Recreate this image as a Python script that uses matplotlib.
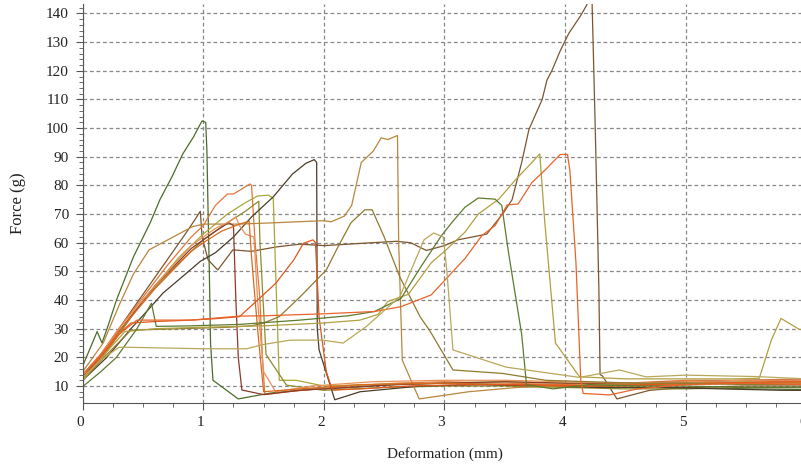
import matplotlib
matplotlib.use('Agg')
import matplotlib.pyplot as plt
from matplotlib.ticker import MultipleLocator
from matplotlib.transforms import ScaledTranslation

plt.rcParams['font.family'] = ['Liberation Serif', 'DejaVu Serif']

# --- force / deformation curves ---
xa = [0, 0.05, 0.12, 0.16, 0.21, 0.28, 0.42, 0.56, 0.64, 0.74, 0.83, 0.92, 0.97, 0.99, 1.02, 1.03, 1.04, 1.05, 1.06, 1.08, 1.29, 1.55, 1.8, 2.2, 2.6, 3.0, 3.5, 4.0, 4.5, 5.0, 5.5, 6.0]
fa = [17, 22, 29, 25, 31, 40, 55, 67, 75, 83, 91, 97, 101, 102.5, 102, 92, 70, 50, 25, 12, 5.5, 7.5, 8.6, 9.5, 10.5, 11, 10.5, 10, 9.5, 9.5, 9, 8.8]

xb = [0, 0.15, 0.3, 0.5, 0.7, 0.85, 0.93, 0.975, 0.99, 1.04, 1.12, 1.245, 1.4, 1.6, 1.8, 2.0, 2.2, 2.4, 2.6, 2.72, 2.85, 3.0, 3.11, 3.35, 3.49, 3.56, 3.64, 3.70, 3.81, 3.85, 3.89, 3.96, 4.03, 4.13, 4.18, 4.22, 4.25, 4.28, 4.29, 4.31, 4.43, 4.7, 5.0, 5.5, 6.0]
fb = [13, 21, 30, 42, 54, 63, 68, 71, 62, 54, 50.5, 57.5, 57, 58.5, 59.5, 59, 59.5, 60, 60.5, 60, 57.3, 59, 61, 63, 70.5, 75, 88, 99.5, 110, 116.8, 120, 127, 133, 139.3, 143, 150, 100, 44, 14, 13.5, 5.5, 8.5, 9.5, 10, 10]

xc = [0, 0.15, 0.3, 0.5, 0.7, 0.9, 1.0, 1.1, 1.2, 1.25, 1.31, 1.386, 1.40, 1.43, 1.47, 1.49, 1.51, 1.7, 2.2, 2.6, 3.0, 3.5, 4.0, 4.5, 5.0, 5.5, 6.0]
fc = [14, 21, 30, 41, 52, 62, 66, 73, 77, 77, 78.5, 80.5, 80, 60, 40, 20, 7, 8, 10, 11, 11.5, 11, 10.5, 11, 12, 12, 12.5]

xd = [0, 0.15, 0.3, 0.5, 0.8, 1.0, 1.2, 1.35, 1.45, 1.54, 1.58, 1.6, 1.63, 1.77, 2.0, 2.4, 3.0, 3.5, 4.0, 4.5, 5.0, 5.5, 6.0]
fd = [12, 19, 28, 40, 55, 63, 70, 74, 76.3, 76.6, 75.5, 50, 12, 12, 10, 10.5, 11, 11.5, 11, 10.5, 11, 11.5, 11]

xe = [0, 0.15, 0.3, 0.5, 0.8, 1.0, 1.2, 1.35, 1.46, 1.47, 1.52, 1.69, 2.0, 2.5, 3.0, 3.5, 4.0, 4.5, 5.0, 5.5, 6.0]
fe = [13, 20, 28, 40, 53, 61, 67, 71, 74.5, 60, 21, 10.3, 8.5, 9.5, 10, 10, 9.5, 9, 9, 9.5, 9.5]

xf = [0, 0.2, 0.4, 0.53, 0.665, 0.85, 0.975, 1.1, 1.25, 1.4, 1.58, 1.74, 1.85, 1.92, 1.94, 1.945, 1.96, 2.09, 2.3, 2.8, 3.3, 3.8, 4.3, 4.8, 5.3, 5.8, 6.0]
ff = [12, 20, 30, 36, 42.4, 49, 53.5, 56.5, 62, 69, 76, 84, 87.7, 89, 88, 30, 22.6, 5.2, 8, 10, 10.5, 10, 9.5, 9.5, 9, 8.5, 8.5]

xg = [0, 0.17, 0.3, 0.42, 0.55, 0.75, 0.91, 1.0, 1.3, 1.61, 2.0, 2.06, 2.17, 2.23, 2.31, 2.41, 2.475, 2.53, 2.61, 2.62, 2.65, 2.79, 3.2, 3.6, 4.0, 4.5, 5.0, 5.5, 6.0]
fg = [15, 25, 38, 49, 57.5, 62, 65.6, 66.5, 66.5, 67, 67.7, 67.3, 69.3, 73, 88, 92, 96.6, 96, 97.4, 60, 19, 5.5, 8, 9.5, 10, 10.5, 11, 11, 11.5]

xh = [0, 0.15, 0.3, 0.6, 0.9, 1.1, 1.21, 1.25, 1.27, 1.29, 1.32, 1.5, 1.8, 2.2, 2.6, 3.0, 3.5, 4.0, 4.5, 5.0, 5.5, 6.0]
fh = [13, 20, 29, 45, 58, 64, 67, 66, 40, 20, 8.6, 7, 8.5, 9.5, 10.5, 11, 11.5, 11, 11, 11.5, 12, 12]

xi = [0, 0.15, 0.3, 0.6, 0.9, 1.1, 1.2, 1.27, 1.3, 1.35, 1.42, 1.45, 1.5, 1.6, 1.9, 2.4, 3.0, 3.5, 4.0, 4.5, 5.0, 5.5, 6.0]
fi = [14, 21, 30, 45, 59, 65, 67, 69, 66, 63, 62, 40, 15, 8, 10, 11.5, 12, 12, 11.5, 11, 11.5, 12, 12]

xi2 = [0, 0.3, 0.6, 0.9, 1.0, 1.15, 1.3, 1.38, 1.4, 1.45, 1.5, 1.8, 2.3, 3.0, 3.5, 4.0, 4.5, 5.0, 5.5, 6.0]
fi2 = [12, 29, 44, 57, 60, 64, 66.5, 67.5, 55, 30, 8, 9, 10.5, 11, 10.5, 10, 10, 10.5, 11, 11]

xj = [0, 0.15, 0.3, 0.4, 0.6, 0.9, 1.1, 1.30, 1.45, 1.6, 1.75, 1.83, 1.91, 1.93, 1.96, 2.02, 2.07, 2.3, 2.7, 3.2, 3.7, 4.2, 4.7, 5.2, 5.7, 6.0]
fj = [13, 20, 28, 32, 32.5, 33, 33.5, 34.2, 40, 45.8, 54, 59.8, 61, 60, 34, 15, 8.6, 9, 10, 10.5, 10.5, 10, 10.5, 11, 11.5, 11.5]

xk = [0, 0.2, 0.4, 0.8, 1.2, 1.4, 1.5, 1.63, 1.8, 2.02, 2.11, 2.225, 2.34, 2.40, 2.5, 2.63, 2.8, 2.875, 3.07, 3.48, 3.84, 4.2, 4.6, 5.0, 5.5, 6.0]
fk = [12, 21, 29.5, 30, 30.5, 31, 32, 34.2, 41, 50.5, 58, 67, 71.5, 71.5, 62, 48, 34, 29.5, 15.6, 14.4, 12, 11.5, 11, 11, 10.5, 10.5]

xl = [0, 0.2, 0.35, 0.6, 1.0, 1.5, 2.0, 2.3, 2.45, 2.53, 2.7, 2.89, 3.0, 3.17, 3.28, 3.45, 3.59, 3.725, 3.79, 3.83, 3.92, 4.12, 4.5, 5.0, 5.4, 5.61, 5.71, 5.79, 5.94, 6.0]
fl = [12, 22, 29, 30, 30.5, 31, 32, 33, 35, 39.5, 42, 53, 57, 63.7, 70, 75.2, 82, 88, 91, 68, 25, 13.2, 12.5, 12.5, 12.5, 12.7, 26, 33.6, 29.8, 29.5]

xm = [0, 0.15, 0.28, 0.45, 0.57, 0.61, 0.9, 1.3, 1.8, 2.2, 2.42, 2.64, 2.81, 2.975, 3.06, 3.17, 3.28, 3.42, 3.475, 3.53, 3.64, 3.68, 3.9, 4.2, 4.6, 5.0, 5.5, 6.0]
fm = [9.8, 15, 20, 30, 38.9, 30.8, 31, 31.5, 33, 34.5, 36, 40.6, 52, 62.5, 67, 72.4, 75.6, 75.2, 73, 56.8, 28, 10.5, 9, 10.5, 10, 10, 9.5, 9.5]

xn = [0, 0.15, 0.3, 0.45, 0.9, 1.3, 1.5, 2.0, 2.42, 2.64, 2.89, 3.17, 3.31, 3.42, 3.52, 3.61, 3.725, 3.84, 3.96, 4.02, 4.04, 4.09, 4.13, 4.15, 4.37, 4.6, 5.0, 5.5, 6.0]
fn = [14, 21, 28, 33, 33, 34.4, 34.5, 35.2, 36, 37.7, 41.8, 54.5, 62.5, 66, 73.2, 73.5, 81, 85.6, 90.8, 90.8, 85, 53, 12, 7.4, 6.9, 9, 10.5, 11, 10.5]

xo = [0, 0.15, 0.3, 0.4, 1.0, 1.36, 1.5, 1.72, 1.99, 2.16, 2.35, 2.63, 2.83, 2.91, 2.99, 3.02, 3.07, 3.51, 4.12, 4.45, 4.67, 5.0, 5.58, 6.0]
fo = [13, 19, 23.5, 23.5, 23, 23, 24.5, 26, 26, 25, 30.7, 41.2, 61, 63.4, 62, 50, 22.6, 16.6, 13, 15.6, 13.2, 13.8, 13.3, 12.5]

curves = [
    (xa, fa, '#4d6b2a'), (xb, fb, '#7d5530'), (xc, fc, '#e07838'),
    (xd, fd, '#a8a838'), (xe, fe, '#8c8c2c'), (xf, ff, '#4a3c2a'),
    (xg, fg, '#b8863c'), (xh, fh, '#8b3a28'), (xi, fi, '#e8905a'),
    (xi2, fi2, '#d86a20'), (xj, fj, '#e0561c'), (xk, fk, '#8f7a2e'),
    (xl, fl, '#b0a040'), (xm, fm, '#5e7a2e'), (xn, fn, '#e8642a'),
    (xo, fo, '#b8a85a'),
]

fig = plt.figure(figsize=(8.01, 4.66), dpi=100)
ax = fig.add_axes([82.7 / 801, 1 - 402.5 / 466, 6 * 120.6 / 801, 398.5 / 466])

for x, f, c in curves:
    ax.plot(x, f, color=c, lw=0.9)

ax.set_xlim(0, 6)
ax.set_ylim(4.25, 143.3)
ax.xaxis.set_major_locator(MultipleLocator(1))
ax.xaxis.set_minor_locator(MultipleLocator(0.25))
ax.yaxis.set_major_locator(MultipleLocator(10))
ax.yaxis.set_minor_locator(MultipleLocator(2))
ax.set_yticks(range(10, 150, 10))

ax.grid(True, which='major', color='#888888', linestyle=(0, (3, 2.2)), lw=0.9)
for s in ['top', 'right']:
    ax.spines[s].set_visible(False)
for s in ['left', 'bottom']:
    ax.spines[s].set_color('#555555')
ax.tick_params(which='major', direction='out', length=5, color='#555555',
               labelsize=11, labelcolor='#222222', pad=5)
ax.tick_params(which='minor', direction='out', length=3, color='#555555')

for lab in ax.get_xticklabels():
    lab.set_transform(lab.get_transform() + ScaledTranslation(-3 / 100, 0, fig.dpi_scale_trans))

ax.set_xlabel('Deformation (mm)', fontsize=11, color='#222222', labelpad=13)
ax.set_ylabel('Force (g)', fontsize=12, color='#222222', labelpad=14)

fig.savefig('out.png', dpi=100)
